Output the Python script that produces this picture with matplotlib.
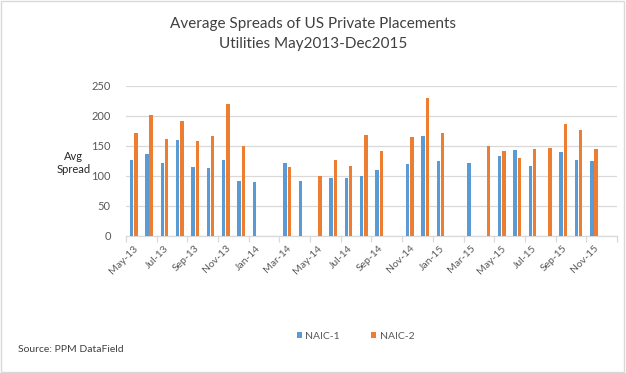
import numpy as np
import matplotlib
matplotlib.use('Agg')
import matplotlib.pyplot as plt
from matplotlib.patches import Rectangle

plt.rcParams['font.family'] = ['Lato', 'DejaVu Sans']

months = ['May-13', 'Jun-13', 'Jul-13', 'Aug-13', 'Sep-13', 'Oct-13', 'Nov-13', 'Dec-13',
          'Jan-14', 'Feb-14', 'Mar-14', 'Apr-14', 'May-14', 'Jun-14', 'Jul-14', 'Aug-14',
          'Sep-14', 'Oct-14', 'Nov-14', 'Dec-14', 'Jan-15', 'Feb-15', 'Mar-15', 'Apr-15',
          'May-15', 'Jun-15', 'Jul-15', 'Aug-15', 'Sep-15', 'Oct-15', 'Nov-15', 'Dec-15']
nan = np.nan
naic1 = [126, 136, 122, 159, 114, 113, 126, 92, 89, nan, 122, 91, nan, 97, 96, 99,
         109, nan, 119, 166, 124, nan, 122, nan, 133, 143, 117, nan, 139, 126, 124, nan]
naic2 = [171, 202, 161, 192, 158, 166, 219, 150, nan, nan, 114, nan, 100, 127, 117, 168,
         142, nan, 165, 229, 171, nan, nan, 149, 142, 129, 145, 147, 187, 176, 144, nan]
yticks = [0, 50, 100, 150, 200, 250]

blue = '#5B9BD5'
orange = '#ED7D31'
grid_c = '#D9D9D9'
text_c = '#595959'

fig = plt.figure(figsize=(6.26, 3.73), dpi=100)
ax = fig.add_axes([0.2013, 0.368, 0.7843, 0.4021])

x = np.arange(len(months))
ax.bar(x - 0.14, naic1, width=0.22, color=blue, label='NAIC-1', zorder=3)
ax.bar(x + 0.14, naic2, width=0.22, color=orange, label='NAIC-2', zorder=3)

ax.set_xlim(-0.5, len(months) - 0.5)
ax.set_ylim(0, 250)
ax.set_yticks(yticks)
ax.yaxis.grid(True, color=grid_c, linewidth=0.9, zorder=0)
ax.tick_params(axis='y', length=0, pad=11, labelsize=8, labelcolor=text_c)
for s in ['top', 'right', 'left']:
    ax.spines[s].set_visible(False)
ax.spines['bottom'].set_color(grid_c)
ax.spines['bottom'].set_linewidth(0.9)

# tick marks between every second category, labels on every second month
ax.set_xticks(np.arange(-0.5, len(months), 2), minor=False)
ax.set_xticklabels([])
ax.tick_params(axis='x', length=4, color=grid_c, width=0.9)
for i in range(0, len(months), 2):
    ax.annotate(months[i], xy=(i, 0), xycoords='data', xytext=(2, -8),
                textcoords='offset points', rotation=45, rotation_mode='anchor',
                ha='right', va='center', fontsize=7.5, color=text_c,
                annotation_clip=False)

fig.text(0.5, 0.936, 'Average Spreads of US Private Placements', ha='center',
         va='center', fontsize=11, color='#404040')
fig.text(0.5, 0.882, 'Utilities May2013-Dec2015', ha='center', va='center',
         fontsize=11, color='#404040')
fig.text(0.117, 0.563, 'Avg\nSpread', ha='center', va='center', fontsize=8,
         color='#262626', linespacing=1.3)
fig.text(0.029, 0.064, 'Source: PPM DataField', ha='left', va='center',
         fontsize=7.5, color='#404040')

fig.legend(loc='center', bbox_to_anchor=(0.568, 0.099), ncol=2, frameon=False,
           fontsize=7.5, labelcolor=text_c, handlelength=0.5, handleheight=0.5,
           handletextpad=0.3, columnspacing=3.0)

fig.patches.append(Rectangle((0.002, 0.003), 0.995, 0.994, transform=fig.transFigure,
                             fill=False, edgecolor=grid_c, linewidth=1))

fig.savefig('out.png', dpi=100)
